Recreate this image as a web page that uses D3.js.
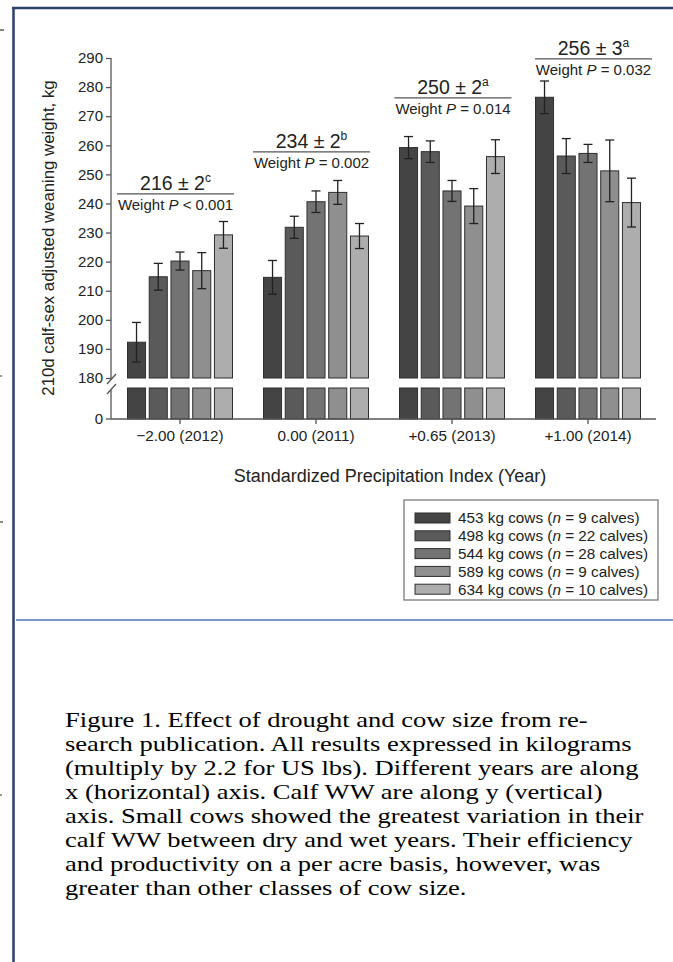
<!DOCTYPE html>
<html>
<head>
<meta charset="utf-8">
<script src="https://cdn.jsdelivr.net/npm/d3@7"></script>
<style>
  body { margin: 0; background: #fff; }
  svg { display: block; }
  text { font-family: "Liberation Sans", Arial, sans-serif; fill: #222; }
</style>
</head>
<body>
<script>
// SPI year groups along the x axis
const years = ["\u22122.00 (2012)", "0.00 (2011)", "+0.65 (2013)", "+1.00 (2014)"];
// cow size classes (legend)
const cowSizes = ["453", "498", "544", "589", "634"];
const calves = [9, 22, 28, 9, 10];
// mean 210d adjusted weaning weight, kg (rows = years, cols = cow size)
const means = [
  [192.3, 214.8, 220.2, 216.9, 229.2],
  [214.6, 231.8, 240.6, 243.8, 228.8],
  [259.2, 257.8, 244.3, 239.1, 256.1],
  [276.5, 256.3, 257.2, 251.2, 240.3]
];
// standard errors
const errs = [
  [6.8, 4.6, 3.1, 6.2, 4.6],
  [5.8, 3.8, 3.7, 4.1, 4.3],
  [3.8, 3.7, 3.6, 6.0, 5.8],
  [5.6, 6.0, 3.1, 10.6, 8.4]
];
// year summaries
const yearMean = [216, 234, 250, 256];
const yearSE = [2, 2, 2, 3];
const yearLetter = ["c", "b", "a", "a"];
const weightP = ["< 0.001", "= 0.002", "= 0.014", "= 0.032"];
const yTicks = [180, 190, 200, 210, 220, 230, 240, 250, 260, 270, 280, 290];

const captionLines = [
  "Figure 1. Effect of drought and cow size from re-",
  "search publication. All results expressed in kilograms",
  "(multiply by 2.2 for US lbs). Different years are along",
  "x (horizontal) axis. Calf WW are along y (vertical)",
  "axis. Small cows showed the greatest variation in their",
  "calf WW between dry and wet years. Their efficiency",
  "and productivity on a per acre basis, however, was",
  "greater than other classes of cow size."
];

// layout bits (not data)
const fills = ["#444444", "#5a5a5a", "#737373", "#8f8f8f", "#adadad"];
const annotLevel = [243.3, 257.7, 276.3, 289.7];   // kg level of the rule under each summary
const annotShift = [-4.5, -4.5, 1, 5.5];

const W = 673, H = 962;
const svg = d3.select("body").append("svg")
  .attr("width", W).attr("height", H);

// page frame
svg.append("line").attr("x1", 13.5).attr("x2", 13.5).attr("y1", 7).attr("y2", H)
  .attr("stroke", "#2c3f6e").attr("stroke-width", 2.5);
svg.append("line").attr("x1", 12).attr("x2", W).attr("y1", 8).attr("y2", 8)
  .attr("stroke", "#2c3f6e").attr("stroke-width", 2.5);
svg.append("line").attr("x1", 16).attr("x2", W).attr("y1", 620).attr("y2", 620)
  .attr("stroke", "#4d74c0").attr("stroke-width", 1.5);
// stray marks at the left edge
[[30, 4], [376, 2], [522, 3], [795, 2]].forEach(m => {
  svg.append("line").attr("x1", 0).attr("x2", m[1]).attr("y1", m[0]).attr("y2", m[0])
    .attr("stroke", "#333").attr("stroke-width", 1.2);
});

// scales
const x = d3.scaleBand().domain(years).range([112, 656])
  .paddingInner(0.228).paddingOuter(0.114);
const xs = d3.scaleBand().domain(d3.range(cowSizes.length))
  .range([0, x.bandwidth()]).paddingInner(0.17);
const y = d3.scaleLinear().domain([180, 290]).range([378, 58]);
const yZero = 419, stubTop = 388;

const g = svg.append("g");

// bars
const groups = g.selectAll(".grp").data(years).join("g")
  .attr("class", "grp")
  .attr("transform", d => `translate(${x(d)},0)`);

groups.each(function (yr, gi) {
  const sel = d3.select(this);
  const rows = means[gi].map((m, i) => ({ i, m, e: errs[gi][i] }));
  // upper part
  sel.selectAll(".bar").data(rows).join("rect")
    .attr("x", d => xs(d.i)).attr("width", xs.bandwidth())
    .attr("y", d => y(d.m)).attr("height", d => y(180) - y(d.m))
    .attr("fill", d => fills[d.i]).attr("stroke", "#2e2e2e").attr("stroke-width", 1);
  // stub below the break
  sel.selectAll(".stub").data(rows).join("rect")
    .attr("x", d => xs(d.i)).attr("width", xs.bandwidth())
    .attr("y", stubTop).attr("height", yZero - stubTop)
    .attr("fill", d => fills[d.i]).attr("stroke", "#2e2e2e").attr("stroke-width", 1);
  // error bars
  const eb = sel.selectAll(".eb").data(rows).join("g")
    .attr("transform", d => `translate(${xs(d.i) + xs.bandwidth() / 2},0)`)
    .attr("stroke", "#222").attr("stroke-width", 1.3);
  eb.append("line").attr("y1", d => y(d.m + d.e)).attr("y2", d => y(d.m - d.e));
  eb.append("line").attr("x1", -4.5).attr("x2", 4.5).attr("y1", d => y(d.m + d.e)).attr("y2", d => y(d.m + d.e));
  eb.append("line").attr("x1", -4.5).attr("x2", 4.5).attr("y1", d => y(d.m - d.e)).attr("y2", d => y(d.m - d.e));

  // summary annotation
  const cx = x.bandwidth() / 2 + annotShift[gi];
  const ly = y(annotLevel[gi]);
  sel.append("line").attr("x1", cx - 58.5).attr("x2", cx + 58.5)
    .attr("y1", ly).attr("y2", ly).attr("stroke", "#555").attr("stroke-width", 1.2);
  const t = sel.append("text").attr("x", cx).attr("y", ly - 4)
    .attr("text-anchor", "middle").style("font-size", "19.5px");
  t.append("tspan").text(`${yearMean[gi]} \u00b1 ${yearSE[gi]}`);
  t.append("tspan").attr("dy", -8).style("font-size", "12px").text(yearLetter[gi]);
  const w = sel.append("text").attr("x", cx).attr("y", ly + 16)
    .attr("text-anchor", "middle").style("font-size", "15px");
  w.append("tspan").text("Weight ");
  w.append("tspan").style("font-style", "italic").text("P");
  w.append("tspan").text(" " + weightP[gi]);
});

// y axis (upper)
const yAxisG = g.append("g").attr("transform", "translate(111,0)")
  .call(d3.axisLeft(y).tickValues(yTicks).tickSize(5).tickSizeOuter(0));
yAxisG.select(".domain").remove();
yAxisG.selectAll("line").attr("stroke", "#555").attr("stroke-width", 1.3);
yAxisG.selectAll("text").style("font-size", "15px").style("font-family", "Liberation Sans")
  .attr("fill", "#222").attr("x", -8);
// axis line with break
const axisCol = "#555";
g.append("line").attr("x1", 111).attr("x2", 111).attr("y1", y(290)).attr("y2", y(180) + 2)
  .attr("stroke", axisCol).attr("stroke-width", 1.3);
g.append("line").attr("x1", 111).attr("x2", 111).attr("y1", stubTop + 2).attr("y2", yZero)
  .attr("stroke", axisCol).attr("stroke-width", 1.3);
g.append("line").attr("x1", 107).attr("y1", 384).attr("x2", 116).attr("y2", 374)
  .attr("stroke", axisCol).attr("stroke-width", 1.3);
g.append("line").attr("x1", 107).attr("y1", 394).attr("x2", 116).attr("y2", 384)
  .attr("stroke", axisCol).attr("stroke-width", 1.3);
// zero tick
g.append("line").attr("x1", 106).attr("x2", 111).attr("y1", yZero).attr("y2", yZero)
  .attr("stroke", axisCol).attr("stroke-width", 1.3);
g.append("text").attr("x", 103).attr("y", yZero).attr("dy", "0.32em")
  .attr("text-anchor", "end").style("font-size", "15px").text("0");

// x axis
const xAxisG = g.append("g").attr("transform", `translate(0,${yZero})`)
  .call(d3.axisBottom(x).tickSize(5).tickSizeOuter(0));
xAxisG.select(".domain").attr("stroke", axisCol).attr("stroke-width", 1.3)
  .attr("d", `M111,0H656`);
xAxisG.selectAll("line").attr("stroke", axisCol).attr("stroke-width", 1.3);
xAxisG.selectAll("text").style("font-size", "15.3px").style("font-family", "Liberation Sans")
  .attr("fill", "#222").attr("y", 11);

// axis titles
svg.append("text").attr("transform", "translate(54,238) rotate(-90)")
  .attr("text-anchor", "middle").style("font-size", "16.8px")
  .text("210d calf-sex adjusted weaning weight, kg");
svg.append("text").attr("x", 390).attr("y", 482)
  .attr("text-anchor", "middle").style("font-size", "18px")
  .text("Standardized Precipitation Index (Year)");

// legend
const lg = svg.append("g").attr("transform", "translate(404,500)");
lg.append("rect").attr("width", 254).attr("height", 100)
  .attr("fill", "#fff").attr("stroke", "#7a7a7a").attr("stroke-width", 1.3);
const items = lg.selectAll(".li").data(cowSizes).join("g")
  .attr("transform", (d, i) => `translate(11,${18 + i * 17.8})`);
items.append("rect").attr("x", 0).attr("y", -5).attr("width", 35).attr("height", 10)
  .attr("fill", (d, i) => fills[i]).attr("stroke", "#2e2e2e").attr("stroke-width", 1);
const lt = items.append("text").attr("x", 43).attr("dy", "0.35em").style("font-size", "15.3px");
lt.append("tspan").text(d => `${d} kg cows (`);
lt.append("tspan").style("font-style", "italic").text("n");
lt.append("tspan").text((d, i) => ` = ${calves[i]} calves)`);

// caption (Times-like, stretched a little to the original line width)
const cap = svg.append("g");
const capText = cap.selectAll("text").data(captionLines).join("text")
  .attr("x", 0).attr("y", (d, i) => 727 + i * 24)
  .style("font-family", "'Liberation Serif', 'Times New Roman', serif")
  .style("font-size", "21.5px").style("fill", "#000")
  .text(d => d);
const firstLen = capText.node().getComputedTextLength();
cap.attr("transform", `translate(65,0) scale(${523 / firstLen},1)`);
</script>
</body>
</html>
